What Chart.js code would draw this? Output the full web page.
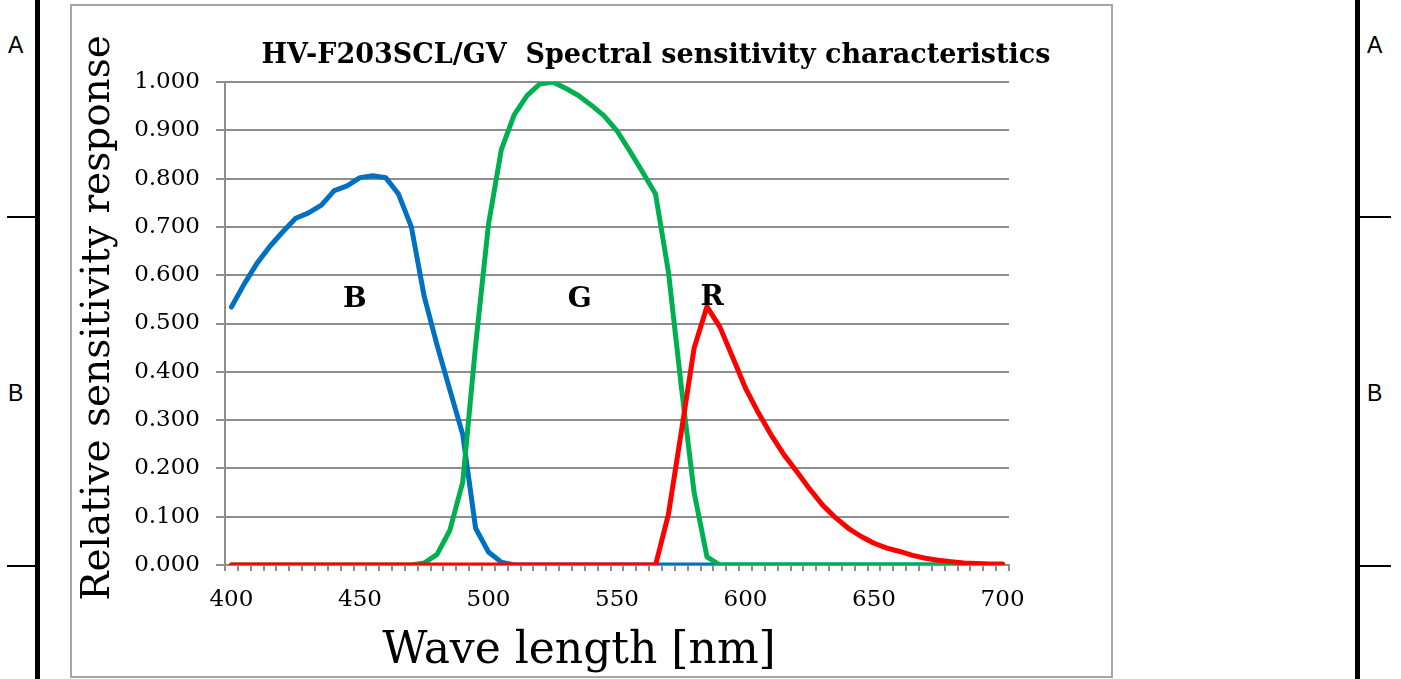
<!DOCTYPE html>
<html>
<head>
<meta charset="utf-8">
<script src="https://cdn.jsdelivr.net/npm/chart.js@4/dist/chart.umd.min.js"></script>
<style>
  html, body { margin: 0; padding: 0; background: #fff; }
  body { width: 1401px; height: 679px; position: relative; overflow: hidden; font-family: "Liberation Sans", Arial, sans-serif; }
  .box { position: absolute; left: 70px; top: 4px; width: 1043px; height: 674px; border: 2px solid #a6a6a6; box-sizing: border-box; }
  .vbar { position: absolute; top: 0; width: 5px; height: 679px; background: #000; }
  .hmark { position: absolute; height: 2px; background: #000; }
  .mark { position: absolute; font-size: 23px; color: #000; line-height: 1; }
  canvas { position: absolute; left: 0; top: 0; }
</style>
</head>
<body>
<div class="box"></div>
<div class="vbar" style="left:35px"></div>
<div class="vbar" style="left:1355px"></div>
<div class="hmark" style="left:7px; width:29px; top:216px"></div>
<div class="hmark" style="left:7px; width:29px; top:565px"></div>
<div class="hmark" style="left:1359px; width:32px; top:216px"></div>
<div class="hmark" style="left:1359px; width:32px; top:565px"></div>
<div class="mark" style="left:8px; top:34px">A</div>
<div class="mark" style="left:8px; top:382px">B</div>
<div class="mark" style="left:1367px; top:34px">A</div>
<div class="mark" style="left:1367px; top:382px">B</div>
<canvas id="c" width="1401" height="679"></canvas>
<script>
// ---- data ----
const wavelengths = [400,405,410,415,420,425,430,435,440,445,450,455,460,465,470,475,480,485,490,495,
  500,505,510,515,520,525,530,535,540,545,550,555,560,565,570,575,580,585,590,595,
  600,605,610,615,620,625,630,635,640,645,650,655,660,665,670,675,680,685,690,695,700];

const blueValues = [0.534,0.582,0.625,0.660,0.690,0.718,0.729,0.745,0.775,0.785,0.802,0.806,0.802,0.768,0.700,0.556,0.455,0.362,0.270,0.076,
  0.027,0.006,0,0,0,0,0,0,0,0,0,0,0,0,0,0,0,0,0,0,
  0,0,0,0,0,0,0,0,0,0,0,0,0,0,0,0,0,0,0,0,0];

const greenValues = [0,0,0,0,0,0,0,0,0,0,0,0,0,0,0,0.004,0.022,0.072,0.172,0.455,
  0.705,0.860,0.932,0.972,0.996,1.000,0.987,0.972,0.952,0.930,0.899,0.857,0.813,0.768,0.607,0.370,0.150,0.017,0,0,
  0,0,0,0,0,0,0,0,0,0,0,0,0,0,0,0,0,0,0,0,0];

const redValues = [0,0,0,0,0,0,0,0,0,0,0,0,0,0,0,0,0,0,0,0,
  0,0,0,0,0,0,0,0,0,0,0,0,0,0,0.105,0.275,0.449,0.535,0.493,0.430,
  0.366,0.315,0.269,0.228,0.193,0.157,0.124,0.098,0.076,0.059,0.045,0.035,0.028,0.020,0.014,0.010,0.007,0.004,0.003,0.002,0.002];

const xTickLabels = ['400','450','500','550','600','650','700'];
const seriesNames = ['B','G','R'];
const seriesLabelWavelength = [448, 535.5, 587];
const seriesLabelValue = [0.534, 0.534, 0.538];

const chartTitle = 'HV-F203SCL/GV  Spectral sensitivity characteristics';
const xTitle = 'Wave length [nm]';
const yTitle = 'Relative sensitivity response';

// ---- chart ----
const SERIF = '"DejaVu Serif", "Liberation Serif", serif';
const GRID = '#8e8e8e';

const textPlugin = {
  id: 'texts',
  afterDraw(chart) {
    const ctx = chart.ctx;
    const xs = chart.scales.x, ys = chart.scales.y;
    ctx.save();
    ctx.fillStyle = '#000';
    ctx.textAlign = 'center';
    ctx.textBaseline = 'alphabetic';
    ctx.font = 'bold 27px ' + SERIF;
    ctx.fillText(chartTitle, 656, 63);
    ctx.font = 'bold 28px ' + SERIF;
    seriesNames.forEach((t, i) => {
      const idx = (seriesLabelWavelength[i] - wavelengths[0]) / 5;
      ctx.fillText(t, xs.getPixelForValue(idx), ys.getPixelForValue(seriesLabelValue[i]));
    });
    ctx.font = '44px ' + SERIF;
    ctx.fillText(xTitle, 579, 663);
    ctx.translate(109, 318);
    ctx.rotate(-Math.PI / 2);
    ctx.font = '39px ' + SERIF;
    ctx.fillText(yTitle, 0, 0);
    ctx.restore();
  }
};

const lineDs = (label, data, color, order) => ({
  label, data, order,
  borderColor: color,
  backgroundColor: color,
  borderWidth: 5,
  pointRadius: 0,
  pointHoverRadius: 0,
  tension: 0,
  fill: false,
  borderJoinStyle: 'round',
  borderCapStyle: 'round'
});

new Chart(document.getElementById('c'), {
  type: 'line',
  data: {
    labels: wavelengths.map(String),
    datasets: [
      lineDs('B', blueValues, '#0070C0', 3),
      lineDs('G', greenValues, '#00B050', 2),
      lineDs('R', redValues, '#FF0000', 1)
    ]
  },
  options: {
    responsive: false,
    animation: false,
    devicePixelRatio: 1,
    layout: { padding: { left: 0, top: 82, right: 392, bottom: 0 } },
    plugins: { legend: { display: false }, title: { display: false }, tooltip: { enabled: false } },
    scales: {
      x: {
        type: 'category',
        offset: true,
        grid: { display: true, drawOnChartArea: false, drawTicks: true, tickLength: 6, color: GRID, lineWidth: 2, offset: true },
        border: { display: true, color: GRID, width: 2 },
        ticks: {
          autoSkip: false, maxRotation: 0, minRotation: 0, padding: 15,
          color: '#000', font: { family: SERIF, size: 23 },
          callback: (v, i) => xTickLabels.includes(wavelengths[i].toString()) ? wavelengths[i].toString() : ''
        },
        afterFit: (s) => { s.height = 114; }
      },
      y: {
        min: 0, max: 1,
        grid: { color: GRID, lineWidth: 2, tickLength: 9 },
        border: { display: true, color: GRID, width: 2 },
        ticks: {
          stepSize: 0.1, padding: 16, color: '#000', font: { family: SERIF, size: 23 },
          callback: (v) => Number(v).toFixed(3)
        },
        afterFit: (s) => { s.width = 225; }
      }
    }
  },
  plugins: [textPlugin]
});
</script>
</body>
</html>
